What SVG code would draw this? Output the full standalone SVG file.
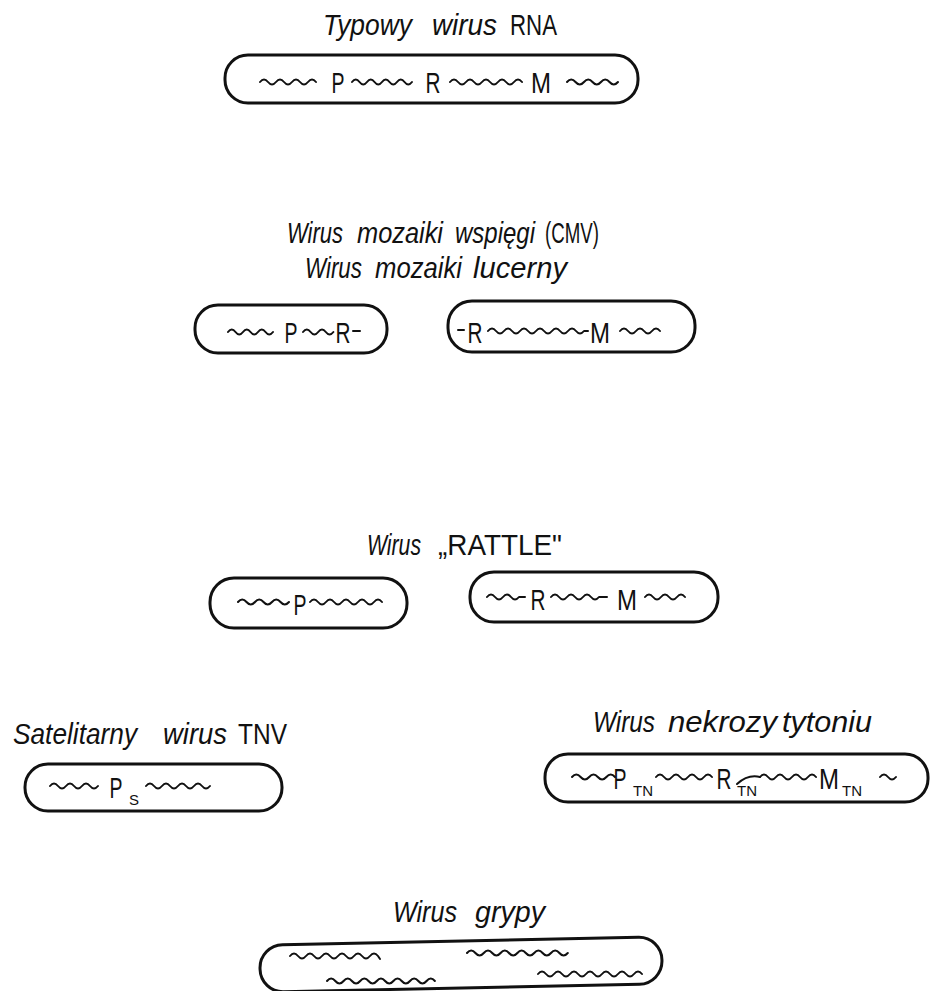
<svg xmlns="http://www.w3.org/2000/svg" width="937" height="991" viewBox="0 0 937 991">
<style>
.cap{fill:none;stroke:#111;stroke-width:3}
.w{fill:none;stroke:#111;stroke-width:2;stroke-linecap:round;stroke-linejoin:round}
.t{font-family:"Liberation Sans",Arial,sans-serif;font-size:29px;fill:#111}
.i{font-style:italic}
.l{font-family:"Liberation Sans",Arial,sans-serif;font-size:29px;fill:#111;text-anchor:middle}
.s{font-family:"Liberation Sans",Arial,sans-serif;font-size:15px;fill:#111}
</style>
<rect width="937" height="991" fill="#fff"/>

<g id="typowy">
<text class="t i" x="323" y="35" textLength="89" lengthAdjust="spacingAndGlyphs">Typowy</text>
<text class="t i" x="432" y="35" textLength="65" lengthAdjust="spacingAndGlyphs">wirus</text>
<text class="t" x="510" y="35" textLength="47" lengthAdjust="spacingAndGlyphs">RNA</text>
<rect class="cap" x="225" y="55" width="413" height="48" rx="23"/>
<path class="w" d="M260 82 q4 -5 8 0 t8 0 t8 0 t8 0 t8 0 t8 0 t8 0"/>
<text class="l" x="338" y="93" textLength="13" lengthAdjust="spacingAndGlyphs">P</text>
<path class="w" d="M352 82 q3.75 -5 7.5 0 t7.5 0 t7.5 0 t7.5 0 t7.5 0 t7.5 0 t7.5 0 t7.5 0"/>
<text class="l" x="433" y="93" textLength="15" lengthAdjust="spacingAndGlyphs">R</text>
<path class="w" d="M450 82 q4 -5 8 0 t8 0 t8 0 t8 0 t8 0 t8 0 t8 0 t8 0 t8 0"/>
<text class="l" x="541" y="93" textLength="20" lengthAdjust="spacingAndGlyphs">M</text>
<path class="w" d="M567 82 q4.25 -5 8.5 0 t8.5 0 t8.5 0 t8.5 0 t8.5 0 t8.5 0"/>
</g>

<g id="cmv">
<text class="t i" x="287" y="243" textLength="56" lengthAdjust="spacingAndGlyphs">Wirus</text>
<text class="t i" x="357" y="243" textLength="86" lengthAdjust="spacingAndGlyphs">mozaiki</text>
<text class="t i" x="455" y="243" textLength="80" lengthAdjust="spacingAndGlyphs">wspięgi</text>
<text class="t" x="545" y="243" textLength="54" lengthAdjust="spacingAndGlyphs">(CMV)</text>
<text class="t i" x="305" y="278" textLength="57" lengthAdjust="spacingAndGlyphs">Wirus</text>
<text class="t i" x="375" y="278" textLength="87" lengthAdjust="spacingAndGlyphs">mozaiki</text>
<text class="t i" x="473" y="278" textLength="94" lengthAdjust="spacingAndGlyphs">lucerny</text>
<rect class="cap" x="195" y="305" width="192" height="48" rx="23"/>
<path class="w" d="M228 332 q3.75 -5 7.5 0 t7.5 0 t7.5 0 t7.5 0 t7.5 0 t7.5 0"/>
<text class="l" x="291" y="343" textLength="13" lengthAdjust="spacingAndGlyphs">P</text>
<path class="w" d="M303 332 q3.8 -5 7.6 0 t7.6 0 t7.6 0 t7.6 0"/>
<text class="l" x="343" y="343" textLength="15" lengthAdjust="spacingAndGlyphs">R</text>
<path class="w" d="M353 331 h7"/>
<rect class="cap" x="448" y="301" width="247" height="51" rx="24"/>
<path class="w" d="M458 330 h6"/>
<text class="l" x="475" y="343" textLength="15" lengthAdjust="spacingAndGlyphs">R</text>
<path class="w" d="M488 331 q4 -5 8 0 t8 0 t8 0 t8 0 t8 0 t8 0 t8 0 t8 0 t8 0 t8 0 t8 0 t8 0 h4"/>
<text class="l" x="600" y="343" textLength="20" lengthAdjust="spacingAndGlyphs">M</text>
<path class="w" d="M620 331 q4 -5 8 0 t8 0 t8 0 t8 0 t8 0"/>
</g>

<g id="rattle">
<text class="t i" x="367" y="555" textLength="54" lengthAdjust="spacingAndGlyphs">Wirus</text>
<text class="t" x="438" y="555" textLength="124" lengthAdjust="spacingAndGlyphs">„RATTLE"</text>
<rect class="cap" x="210" y="578" width="197" height="50" rx="24"/>
<path class="w" d="M238 602 q4.25 -5 8.5 0 t8.5 0 t8.5 0 t8.5 0 t8.5 0 t8.5 0"/>
<text class="l" x="300" y="615" textLength="13" lengthAdjust="spacingAndGlyphs">P</text>
<path class="w" d="M310 602 q4 -5 8 0 t8 0 t8 0 t8 0 t8 0 t8 0 t8 0 t8 0 t8 0"/>
<rect class="cap" x="470" y="572" width="248" height="50" rx="24"/>
<path class="w" d="M487 597 q4 -5 8 0 t8 0 t8 0 t8 0 h6"/>
<text class="l" x="538" y="610" textLength="15" lengthAdjust="spacingAndGlyphs">R</text>
<path class="w" d="M551 597 q4 -5 8 0 t8 0 t8 0 t8 0 t8 0 t8 0 h8"/>
<text class="l" x="627" y="610" textLength="20" lengthAdjust="spacingAndGlyphs">M</text>
<path class="w" d="M645 597 q4 -5 8 0 t8 0 t8 0 t8 0 t8 0"/>
</g>

<g id="satelitarny">
<text class="t i" x="13" y="744" textLength="124" lengthAdjust="spacingAndGlyphs">Satelitarny</text>
<text class="t i" x="163" y="744" textLength="64" lengthAdjust="spacingAndGlyphs">wirus</text>
<text class="t" x="238" y="744" textLength="49" lengthAdjust="spacingAndGlyphs">TNV</text>
<rect class="cap" x="25" y="764" width="257" height="47" rx="23"/>
<path class="w" d="M50 786 q4 -5 8 0 t8 0 t8 0 t8 0 t8 0 t8 0"/>
<text class="l" x="116" y="798" textLength="13" lengthAdjust="spacingAndGlyphs">P</text>
<text class="s" x="129" y="805">S</text>
<path class="w" d="M146 786 q4 -5 8 0 t8 0 t8 0 t8 0 t8 0 t8 0 t8 0 t8 0"/>
</g>

<g id="nekroza">
<text class="t i" x="593" y="732" textLength="62" lengthAdjust="spacingAndGlyphs">Wirus</text>
<text class="t i" x="668" y="732" textLength="109" lengthAdjust="spacingAndGlyphs">nekrozy</text>
<text class="t i" x="782" y="732" textLength="90" lengthAdjust="spacingAndGlyphs">tytoniu</text>
<rect class="cap" x="545" y="754" width="383" height="48" rx="23"/>
<path class="w" d="M572 777 q4.3 -5 8.6 0 t8.6 0 t8.6 0 t8.6 0 t8.6 0"/>
<text class="l" x="620" y="789" textLength="13" lengthAdjust="spacingAndGlyphs">P</text>
<text class="s" x="633" y="796">TN</text>
<path class="w" d="M656 777 q4 -5 8 0 t8 0 t8 0 t8 0 t8 0 t8 0 t8 0"/>
<text class="l" x="724" y="789" textLength="15" lengthAdjust="spacingAndGlyphs">R</text>
<text class="s" x="737" y="796">TN</text>
<path class="w" d="M737 784 Q748 774 760 777"/>
<path class="w" d="M760 777 q4 -5 8 0 t8 0 t8 0 t8 0 t8 0 t8 0 t8 0"/>
<text class="l" x="829" y="789" textLength="20" lengthAdjust="spacingAndGlyphs">M</text>
<text class="s" x="842" y="796">TN</text>
<path class="w" d="M880 777 q4 -5 8 0 t8 0"/>
</g>

<g id="grypa">
<text class="t i" x="393" y="922" textLength="64" lengthAdjust="spacingAndGlyphs">Wirus</text>
<text class="t i" x="475" y="922" textLength="70" lengthAdjust="spacingAndGlyphs">grypy</text>
<rect class="cap" x="260" y="941" width="402" height="47" rx="23" transform="rotate(-1.2 461 965)"/>
<path class="w" d="M290 956 q4 -5 8 0 t8 0 t8 0 t8 0 t8 0 t8 0 t8 0 t8 0 t8 0 t8 0 t8 0 l2 3"/>
<path class="w" d="M327 981 q4.15 -5 8.3 0 t8.3 0 t8.3 0 t8.3 0 t8.3 0 t8.3 0 t8.3 0 t8.3 0 t8.3 0 t8.3 0 t8.3 0 t8.3 0 t8.3 0"/>
<path class="w" d="M467 953 q4.2 -5 8.4 0 t8.4 0 t8.4 0 t8.4 0 t8.4 0 t8.4 0 t8.4 0 t8.4 0 t8.4 0 t8.4 0 t8.4 0 t8.4 0"/>
<path class="w" d="M538 974 q4 -5 8 0 t8 0 t8 0 t8 0 t8 0 t8 0 t8 0 t8 0 t8 0 t8 0 t8 0 t8 0 t8 0"/>
</g>
</svg>
